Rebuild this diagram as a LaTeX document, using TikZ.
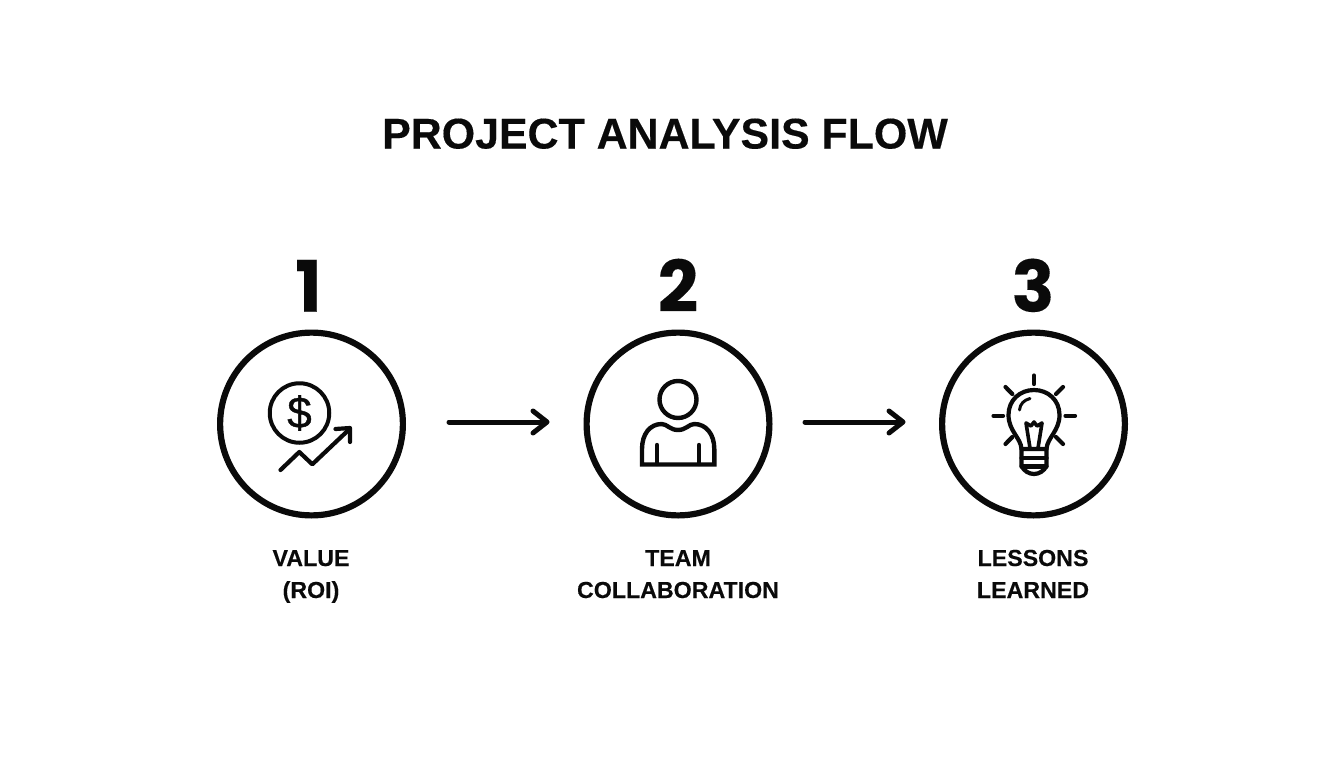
\documentclass[tikz,border=0pt]{standalone}
\usepackage{fontspec}
\setmainfont{Liberation Sans}[BoldFeatures={FakeBold=0.3}]
\newfontfamily\numfont{Poppins}[BoldFeatures={FakeBold=0.15}]
\newfontfamily\dollarfont{Liberation Sans}[FakeBold=0.8]
\usetikzlibrary{arrows.meta}
\definecolor{ink}{HTML}{0A0A0A}
\tikzset{
  ring/.style={circle,draw=ink,line width=6.2pt,minimum size=182.8pt,inner sep=0pt,outer sep=0pt},
  titletext/.style={anchor=base,text=ink,font=\fontsize{42.9}{50}\selectfont\bfseries,inner sep=0pt},
  numtext/.style={anchor=base,text=ink,font=\numfont\fontsize{71}{76}\selectfont\bfseries,inner sep=0pt},
  captext/.style={anchor=base,text=ink,font=\fontsize{23.2}{28}\selectfont\bfseries,inner sep=0pt},
  flowarrow/.style={draw=ink,line width=5pt,line cap=round,line join=round,-{Straight Barb[length=14pt,width=22pt,round]}},
  icon/.style={draw=ink,line width=4.2pt,line cap=round,line join=round}
}
\begin{document}
\begin{tikzpicture}[x=1pt,y=-1pt]
\useasboundingbox (0,0) rectangle (1344,768);
\fill[white] (0,0) rectangle (1344,768);
\node[titletext] (title) at (665,148.5) {PROJECT ANALYSIS FLOW};
\node[numtext] (n1) at (308.5,311.7) {1};
\node[numtext] (n2) at (678,311.7) {2};
\node[numtext] (n3) at (1033,311.7) {3};
\node[ring] (c1) at (311.5,424) {};
\node[ring] (c2) at (678,424) {};
\node[ring] (c3) at (1033.5,424) {};
\coordinate (a1s) at (449,422);
\coordinate (a1e) at (549.5,422);
\coordinate (a2s) at (805,422);
\coordinate (a2e) at (905.5,422);
\draw[flowarrow] (a1s) -- (a1e);
\draw[flowarrow] (a2s) -- (a2e);
\node[captext] (l1a) at (311,566) {VALUE};
\node[captext] (l1b) at (311,598) {(ROI)};
\node[captext] (l2a) at (678,566) {TEAM};
\node[captext] (l2b) at (678,598) {COLLABORATION};
\node[captext] (l3a) at (1033,566) {LESSONS};
\node[captext] (l3b) at (1033,598) {LEARNED};
% money icon
\node[circle,draw=ink,line width=4pt,minimum size=59.5pt,inner sep=0pt,outer sep=0pt] (coin) at (299.5,413) {};
\node[text=ink,font=\dollarfont\fontsize{44}{44}\selectfont,inner sep=0pt] (dollar) at (299.5,413) {\$};
\draw[icon] (280.5,470) -- (299.3,452) -- (312.3,464.3) -- (348,430.5);
\draw[icon] (335.5,429) -- (350,428) -- (350,442);
% person icon
\node[circle,draw=ink,line width=4.4pt,minimum size=37pt,inner sep=0pt,outer sep=0pt] (head) at (678,399.5) {};
\draw[icon,line width=4.4pt,line join=miter,line cap=butt] (642,464.5) -- (642,449)
  .. controls (642,434) and (650,424) .. (661.7,424)
  .. controls (667,424) and (670,430) .. (678,430)
  .. controls (686,430) and (689,424) .. (694.3,424)
  .. controls (706,424) and (714.3,434) .. (714.3,449)
  -- (714.3,464.5) -- cycle;
\draw[icon,line width=4.4pt] (657,445) -- (657,464);
\draw[icon,line width=4.4pt] (699,445) -- (699,464);
% bulb icon
\draw[icon] (1021.5,449)
  .. controls (1021,438) and (1008.5,431) .. (1008.5,415)
  .. controls (1008.5,400) and (1020,390) .. (1034,390)
  .. controls (1048,390) and (1059.5,400) .. (1059.5,415)
  .. controls (1059.5,431) and (1047,438) .. (1046.5,449);
\draw[icon,line width=3pt] (1019.5,410) .. controls (1020,404) and (1024,400) .. (1030,398.5);
\draw[icon,line width=3.6pt] (1030,448) -- (1026,423) -- (1031,426) -- (1034,422) -- (1037,426) -- (1042,423) -- (1038,448);
\draw[icon] (1021.5,449) -- (1021.5,466) .. controls (1024,471) and (1029,474) .. (1034,474)
  .. controls (1039,474) and (1044,471) .. (1046.5,466) -- (1046.5,449) -- cycle;
\draw[icon] (1021.5,458) -- (1046.5,458);
\draw[icon] (1021.5,466.5) -- (1046.5,466.5);
\draw[icon] (1034,375.5) -- (1034,384);
\draw[icon] (993.5,415.7) -- (1003,415.7);
\draw[icon] (1065.5,415.7) -- (1075,415.7);
\draw[icon] (1005.5,387) -- (1012.3,394);
\draw[icon] (1063,387) -- (1056,394);
\draw[icon] (1005.5,444) -- (1012.3,437);
\draw[icon] (1063,444) -- (1056,437);
\end{tikzpicture}
\end{document}
